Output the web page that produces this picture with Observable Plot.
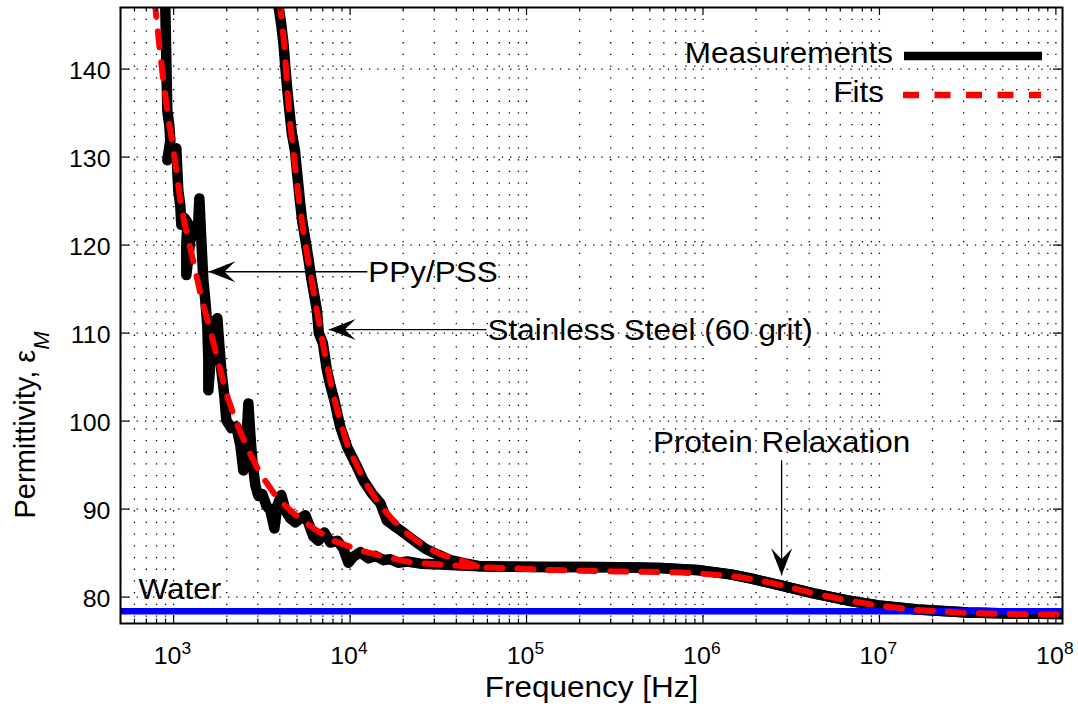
<!DOCTYPE html>
<html>
<head>
<meta charset="utf-8">
<script src="https://cdn.jsdelivr.net/npm/d3@7"></script>
<script src="https://cdn.jsdelivr.net/npm/@observablehq/plot@0.6"></script>
<style>
  html, body { margin: 0; padding: 0; background: #ffffff; }
  #chart svg { display: block; }
</style>
</head>
<body>
<div id="chart"></div>
<script>
// ---------------- data ----------------
const xTickExponents = [3, 4, 5, 6, 7, 8];
const yTickValues = [80, 90, 100, 110, 120, 130, 140];
const minorMultipliers = [2, 3, 4, 5, 6, 7, 8, 9];
const xLabel = "Frequency [Hz]";
const yLabelMain = "Permittivity, ";
const yLabelSymbol = "ε";
const yLabelSub = "M";
const legendLabels = ["Measurements", "Fits"];

const waterEps = 78.4;
const waterLabel = "Water";
const waterLabelFreq = 633;
const waterLabelEps = 79.82;

// PPy/PSS measurement (Hz, permittivity)
const ppyMeasFreq = [874, 897, 909, 921, 945, 958, 921, 983, 1036, 1049, 1063, 1091, 1106, 1150, 1196, 1180, 1180, 1243, 1310, 1380,
  1399, 1436, 1474, 1512, 1552, 1573, 1573, 1636, 1701, 1769, 1816, 1864, 1938, 1990, 2124, 2267, 2389, 2484, 2584, 2652,
  2722, 2793, 2905, 3021, 3183, 3354, 3533, 3723, 3872, 4078, 4297, 4587, 4897, 5228, 5580, 5880, 6194, 6613, 7150, 7732,
  8472, 9162, 9781, 10440, 11440, 12700, 13910, 15450, 16920, 18780, 21130, 25030, 32510, 42200];
const ppyMeasEps = [151.3, 147.05, 141.0, 135.3, 133.6, 131.9, 129.65, 130.8, 131.0, 128.5, 126.2, 124.5, 122.3, 123.1, 122.6, 120.0, 116.6, 120.5, 121.9, 122.6,
  125.3, 120.5, 116.0, 113.7, 110.9, 106.9, 103.5, 108.0, 111.2, 111.7, 108.6, 105.8, 102.9, 100.1, 99.2, 99.4, 97.25, 94.4, 97.8, 102.0,
  98.4, 95.5, 92.7, 91.5, 91.7, 90.4, 89.85, 87.8, 90.4, 91.6, 89.85, 88.95, 88.5, 88.95, 89.3, 88.15, 86.9, 86.4, 87.35, 86.2,
  86.4, 85.5, 83.9, 84.6, 85.1, 84.4, 84.7, 84.2, 84.3, 83.9, 84.05, 83.8, 83.7, 83.6];

// Stainless steel measurement
const steelMeasFreq = [3821, 3937, 4078, 4203, 4297, 4411, 4528, 4678, 4865, 5025, 5193, 5365, 5580, 5802, 6034, 6194, 6482, 6654, 7014, 7389,
  7732, 8147, 8810, 9654, 10720, 11900, 13290, 14850, 16170, 17600, 19280, 21130, 23460, 26730, 31250, 37040, 45040];
const steelMeasEps = [151.3, 147.05, 145.0, 142.7, 140.2, 137.6, 135.3, 132.7, 130.8, 127.95, 125.1, 122.6, 120.6, 118.5, 116.2, 114.9, 112.6, 110.0, 108.85, 105.8,
  104.05, 102.35, 99.3, 97.0, 95.2, 93.25, 91.8, 90.65, 88.7, 88.15, 87.6, 87.0, 86.3, 85.5, 84.85, 84.2, 83.83];

// shared high-frequency part of the measurements
const tailMeasFreq = [54790, 84290, 131400, 202100, 340700, 574200, 967900, 1.432e6, 1.859e6, 2.75e6, 4.23e6, 6.595e6, 9.884e6, 1.644e7, 3.16e7, 5.536e7, 1.091e8];
const tailMeasEps = [83.5, 83.45, 83.42, 83.42, 83.4, 83.3, 83.04, 82.58, 82.13, 81.33, 80.42, 79.62, 79.05, 78.6, 78.26, 78.14, 78.08];

// fits
const ppyFitFreq = [757.6, 787.6, 829.7, 877.7, 927.2, 979.3, 1036, 1091, 1150, 1216, 1327, 1449, 1615, 1799, 1964, 2238, 2607, 3101, 3857, 4790,
  6218, 8075, 11440, 16210, 22940, 32510];
const ppyFitEps = [151.3, 147.05, 142.7, 138.4, 134.8, 131.9, 128.5, 125.1, 122.6, 120.5, 117.1, 113.7, 110.3, 106.6, 103.5, 100.1, 97.0, 94.0, 91.3, 89.5,
  87.8, 86.4, 85.3, 84.5, 83.9, 83.7];
const steelFitFreq = [3872, 4026, 4242, 4411, 4587, 4834, 5093, 5365, 5654, 6034, 6482, 6878, 7389, 8040, 8810, 9781, 11140, 12700, 14850, 17600,
  21130, 26030, 32510, 42200, 54790];
const steelFitEps = [151.3, 147.05, 142.7, 137.6, 133.6, 129.65, 125.65, 122.3, 119.4, 116.2, 112.6, 109.75, 106.4, 103.0, 99.9, 97.0, 94.6, 92.45, 90.4, 88.7,
  87.2, 85.85, 84.85, 84.2, 83.38];
const tailFitFreq = [54790, 84290, 131400, 310900, 745400, 967900, 1.341e6, 1.859e6, 2.75e6, 4.23e6, 6.595e6, 9.75e6, 1.561e7, 3.16e7, 7.474e7, 1.091e8];
const tailFitEps = [83.38, 83.26, 83.09, 82.92, 82.8, 82.66, 82.47, 82.09, 81.39, 80.42, 79.62, 79.05, 78.57, 78.18, 78.03, 78.01];

// annotations (arrow start -> arrow tip)
const annLabels = ["PPy/PSS", "Stainless Steel (60 grit)", "Protein Relaxation"];
const annFromFreq = [12520, 59270, 2.79e6];
const annFromEps = [116.97, 110.4, 95.54];
const annToFreq = [1574, 7567, 2.79e6];
const annToEps = [116.97, 110.4, 82.47];
const annHeadRotate = [-90, -90, 180];

// ---------------- layout ----------------
const FONT = "'Liberation Sans', Arial, Helvetica, sans-serif";
const W = 1078, H = 708;
const M = {top: 7, right: 16, bottom: 85, left: 120};
const frameW = W - M.left - M.right;
const frameH = H - M.top - M.bottom;
const xDomain = [500, 1.09e8];
const yDomain = [77, 147];
const STRETCH = 1.085;

const xMajor = xTickExponents.map(e => 10 ** e);
const xMinor = [];
for (let k = 2; k <= 7; k++) for (const m of minorMultipliers) {
  const v = m * 10 ** k;
  if (v >= xDomain[0] && v <= xDomain[1]) xMinor.push(v);
}
const xGrid = xMinor.concat(xMajor);

const rows = (F, E, s) => F.map((f, i) => ({f, eps: E[i], series: s}));
const measRows = [
  ...rows(ppyMeasFreq.concat(tailMeasFreq), ppyMeasEps.concat(tailMeasEps), "ppy"),
  ...rows(steelMeasFreq.concat(tailMeasFreq), steelMeasEps.concat(tailMeasEps), "steel")
];
const fitRows = [
  ...rows(ppyFitFreq.concat(tailFitFreq), ppyFitEps.concat(tailFitEps), "ppy"),
  ...rows(steelFitFreq, steelFitEps, "steel")
];
const annotations = annLabels.map((label, i) => ({
  label, x1: annFromFreq[i], y1: annFromEps[i], x2: annToFreq[i], y2: annToEps[i], rot: annHeadRotate[i], vertical: annHeadRotate[i] === 180
}));

// filled arrowhead, tip at origin, pointing up
const arrowHead = {
  draw(ctx) {
    ctx.moveTo(0, 0);
    ctx.lineTo(10.5, 27);
    ctx.lineTo(0, 16);
    ctx.lineTo(-10.5, 27);
    ctx.closePath();
  }
};

const plot = Plot.plot({
  width: W, height: H,
  marginTop: M.top, marginRight: M.right, marginBottom: M.bottom, marginLeft: M.left,
  x: {type: "log", domain: xDomain, axis: null},
  y: {domain: yDomain, axis: null},
  style: {fontFamily: FONT, background: "white", color: "black"},
  marks: [
    // grid
    Plot.ruleX(xGrid, {x: d => d, stroke: "#000", strokeWidth: 1.3, strokeDasharray: "1.3,10.4"}),
    Plot.ruleY(yTickValues, {y: d => d, stroke: "#000", strokeWidth: 1.3, strokeDasharray: "1.3,7"}),
    // measurements
    Plot.line(measRows, {x: "f", y: "eps", z: "series", stroke: "black", strokeWidth: 10.5,
      strokeLinejoin: "round", strokeLinecap: "round", clip: true}),
    // water
    Plot.ruleY([waterEps], {y: d => d, stroke: "#0000ff", strokeWidth: 6.5}),
    // fits
    Plot.line(fitRows, {x: "f", y: "eps", z: "series", stroke: "#ff0000", strokeWidth: 6,
      strokeDasharray: "16,15", clip: true}),
    // annotations
    Plot.link(annotations, {x1: "x1", y1: "y1", x2: "x2", y2: "y2", stroke: "black", strokeWidth: 1.3}),
    Plot.dot(annotations, {x: "x2", y: "y2", symbol: arrowHead, r: 10, rotate: "rot", fill: "black", stroke: "none"}),
    Plot.text(annotations.filter(d => !d.vertical), {x: "x1", y: "y1", text: "label", textAnchor: "start",
      lineAnchor: "middle", dx: 1, dy: 1, fontSize: 29}),
    Plot.text(annotations.filter(d => d.vertical), {x: "x1", y: "y1", text: "label", textAnchor: "middle",
      lineAnchor: "bottom", dy: -8, fontSize: 29}),
    Plot.text([{label: waterLabel, f: waterLabelFreq, eps: waterLabelEps}], {x: "f", y: "eps", text: "label",
      textAnchor: "start", lineAnchor: "bottom", fontSize: 29}),
    // inside ticks
    Plot.tickX(xMajor, {x: d => d, insetTop: frameH - 8, stroke: "black", strokeWidth: 1.2}),
    Plot.tickX(xMajor, {x: d => d, insetBottom: frameH - 8, stroke: "black", strokeWidth: 1.2}),
    Plot.tickX(xMinor, {x: d => d, insetTop: frameH - 4.5, stroke: "black", strokeWidth: 1.2}),
    Plot.tickX(xMinor, {x: d => d, insetBottom: frameH - 4.5, stroke: "black", strokeWidth: 1.2}),
    Plot.tickY(yTickValues, {y: d => d, insetRight: frameW - 9, stroke: "black", strokeWidth: 1.2}),
    Plot.tickY(yTickValues, {y: d => d, insetLeft: frameW - 9, stroke: "black", strokeWidth: 1.2}),
    Plot.frame({stroke: "black", strokeWidth: 2}),
    // tick labels
    Plot.text(xTickExponents, {x: e => 10 ** e, text: () => "10", frameAnchor: "bottom", dy: 40.5, dx: -6,
      lineAnchor: "bottom", fontSize: 23}),
    Plot.text(xTickExponents, {x: e => 10 ** e, text: e => String(e), frameAnchor: "bottom", dy: 30.5, dx: 8,
      textAnchor: "start", lineAnchor: "bottom", fontSize: 16}),
    Plot.text(yTickValues, {y: d => d, text: d => String(d), frameAnchor: "left", textAnchor: "end",
      dx: -10, dy: 3, lineAnchor: "middle", fontSize: 23}),
    // x title
    Plot.text([xLabel], {text: d => d, frameAnchor: "bottom", dy: 73, lineAnchor: "bottom", fontSize: 29})
  ]
});

document.getElementById("chart").append(plot);
const svg = d3.select(plot);

// y title (rotated, with subscript)
const yl = svg.append("text")
  .attr("class", "ylab")
  .attr("transform", `translate(35,425) rotate(-90)`)
  .attr("font-family", FONT).attr("font-size", 29).attr("fill", "black");
yl.append("tspan").text(yLabelMain);
yl.append("tspan").text(yLabelSymbol);
yl.append("tspan").attr("font-style", "italic").attr("font-size", 22).attr("dy", 14).text(yLabelSub);

// legend (inside top-right)
const frameRight = M.left + frameW;
const lg = svg.append("g").attr("font-family", FONT).attr("font-size", 29);
const legendRows = [
  {label: legendLabels[0], y: M.top + 49, textEnd: frameRight - 169, stroke: "black", width: 8.5, dash: null, x1: frameRight - 158, x2: frameRight - 20},
  {label: legendLabels[1], y: M.top + 88, textEnd: frameRight - 178, stroke: "#ff0000", width: 6.5, dash: "16,15.5", x1: frameRight - 159, x2: frameRight - 21}
];
for (const r of legendRows) {
  const ln = lg.append("line").attr("x1", r.x1).attr("x2", r.x2).attr("y1", r.y).attr("y2", r.y)
    .attr("stroke", r.stroke).attr("stroke-width", r.width);
  if (r.dash) ln.attr("stroke-dasharray", r.dash);
  lg.append("text").attr("x", r.textEnd).attr("y", r.y + 7.3).attr("text-anchor", "end").attr("fill", "black").text(r.label);
}

// horizontal stretch of glyphs to match the reference's proportions
svg.selectAll("text").each(function () {
  if (this.classList.contains("ylab")) return;
  const len = this.getComputedTextLength();
  if (len > 0) {
    this.setAttribute("textLength", (len * STRETCH).toFixed(2));
    this.setAttribute("lengthAdjust", "spacingAndGlyphs");
  }
});
</script>
</body>
</html>
